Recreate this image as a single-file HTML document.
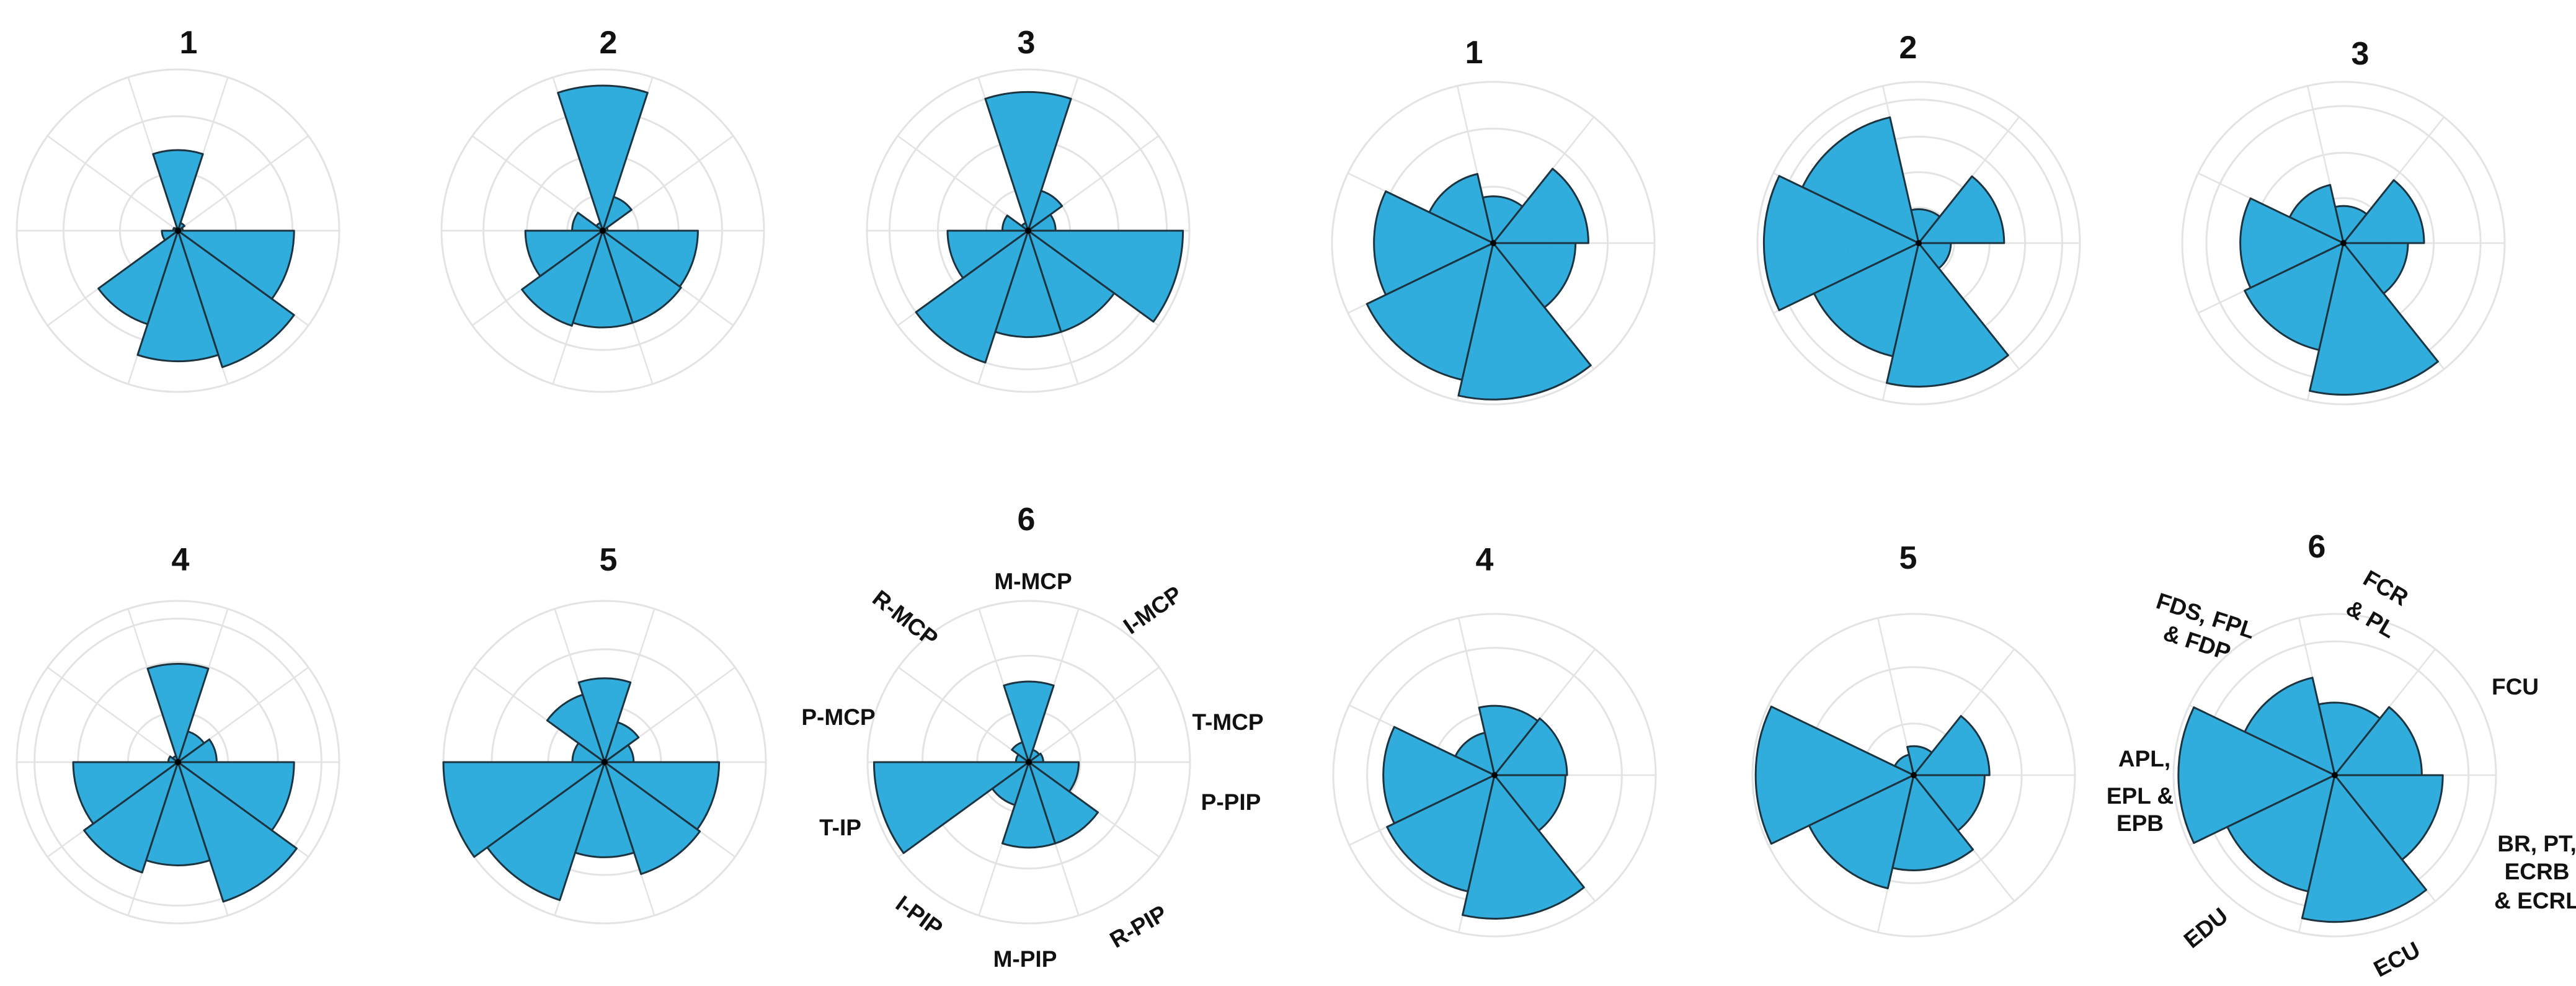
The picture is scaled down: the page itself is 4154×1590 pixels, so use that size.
<!DOCTYPE html>
<html><head><meta charset="utf-8">
<style>
html,body{margin:0;padding:0;background:#fff;}
svg{display:block;}
text{font-family:"Liberation Sans",sans-serif;font-weight:bold;fill:#111;}
.t{font-size:52px;}
.l{font-size:37px;}
</style></head>
<body>
<svg id="s" width="4154" height="1590" viewBox="0 0 4154 1590" xmlns="http://www.w3.org/2000/svg">
<g id="plots"></g>
<g text-anchor="middle">
<text class="t" x="304" y="86">1</text>
<text class="t" x="981" y="86">2</text>
<text class="t" x="1655" y="86">3</text>
<text class="t" x="2377" y="102">1</text>
<text class="t" x="3077" y="94">2</text>
<text class="t" x="3806" y="104">3</text>
<text class="t" x="291" y="920">4</text>
<text class="t" x="981" y="920">5</text>
<text class="t" x="1655" y="855">6</text>
<text class="t" x="2394" y="920">4</text>
<text class="t" x="3077" y="917">5</text>
<text class="t" x="3736" y="899">6</text>

<text class="l" x="1666" y="950">M-MCP</text>
<text class="l" transform="translate(1452,1007) rotate(38)" x="0" y="0">R-MCP</text>
<text class="l" transform="translate(1866,994) rotate(-35)" x="0" y="0">I-MCP</text>
<text class="l" x="1980" y="1177">T-MCP</text>
<text class="l" x="1352" y="1169">P-MCP</text>
<text class="l" x="1985" y="1306">P-PIP</text>
<text class="l" x="1355" y="1347">T-IP</text>
<text class="l" transform="translate(1475,1487) rotate(36)" x="0" y="0">I-PIP</text>
<text class="l" x="1653" y="1559">M-PIP</text>
<text class="l" transform="translate(1842,1505) rotate(-30)" x="0" y="0">R-PIP</text>

<text class="l" transform="translate(3553,1005) rotate(18)" x="0" y="0">FDS, FPL</text>
<text class="l" transform="translate(3539,1048) rotate(18)" x="0" y="0">&amp; FDP</text>
<text class="l" transform="translate(3841,959) rotate(30)" x="0" y="0">FCR</text>
<text class="l" transform="translate(3817,1009) rotate(30)" x="0" y="0">&amp; PL</text>
<text class="l" x="4056" y="1120">FCU</text>
<text class="l" x="3458" y="1236">APL,</text>
<text class="l" x="3451" y="1296">EPL &amp;</text>
<text class="l" x="3451" y="1340">EPB</text>
<text class="l" x="4091" y="1373">BR, PT,</text>
<text class="l" x="4091" y="1418">ECRB</text>
<text class="l" x="4091" y="1465">&amp; ECRL</text>
<text class="l" transform="translate(3565,1506) rotate(-39)" x="0" y="0">EDU</text>
<text class="l" transform="translate(3871,1558) rotate(-28)" x="0" y="0">ECU</text>
</g>
</svg>
<script>
(function(){
var NS="http://www.w3.org/2000/svg";
var g=document.getElementById("plots");
var R=260;
var L=[
 {cx:287,cy:372,rings:[.36,.71,1],d:[.50,.05,.03,.72,.89,.81,.61,.10,.03,.02]},
 {cx:972,cy:372,rings:[.22,.47,.74,1],d:[.90,.22,.03,.59,.60,.60,.62,.48,.19,.05]},
 {cx:1658,cy:372,rings:[.26,.56,.86,1],d:[.86,.26,.17,.96,.66,.66,.86,.50,.16,.05]},
 {cx:287,cy:1229,rings:[.31,.62,.89,1],d:[.61,.20,.24,.72,.91,.64,.72,.65,.06,.04]},
 {cx:975,cy:1229,rings:[.35,.7,1],d:[.52,.26,.18,.71,.73,.59,.90,1.0,.20,.44]},
 {cx:1659,cy:1229,rings:[.32,.66,1],d:[.50,.08,.09,.31,.53,.53,.28,.96,.08,.13]}
];
var Rt=[
 {cx:2408,cy:392,rings:[.35,.71,1],d:[.59,.29,.44,.74,.87,.97,.51]},
 {cx:3094,cy:392,rings:[.22,.44,.66,.89,1],d:[.53,.21,.80,.96,.72,.89,.20]},
 {cx:3779,cy:392,rings:[.28,.56,.85,1],d:[.50,.23,.37,.64,.68,.94,.40]},
 {cx:2410,cy:1250,rings:[.39,.79,1],d:[.45,.43,.27,.69,.74,.89,.44]},
 {cx:3086,cy:1250,rings:[.32,.67,1],d:[.47,.18,.13,.98,.72,.59,.44]},
 {cx:3765,cy:1250,rings:[.41,.83,1],d:[.54,.45,.62,.97,.74,.91,.67]}
];
function el(n,a){var e=document.createElementNS(NS,n);for(var k in a)e.setAttribute(k,a[k]);g.appendChild(e);return e;}
function pt(cx,cy,r,deg){var a=deg*Math.PI/180;return [cx+r*Math.cos(a),cy-r*Math.sin(a)];}
function plot(p,n,centers){
 var w=360/n;
 p.rings.forEach(function(f){el("circle",{cx:p.cx,cy:p.cy,r:f*R,fill:"none",stroke:"#e3e3e3","stroke-width":3});});
 for(var i=0;i<n;i++){var q=pt(p.cx,p.cy,R,i*w);el("line",{x1:p.cx,y1:p.cy,x2:q[0],y2:q[1],stroke:"#e3e3e3","stroke-width":2.5});}
 centers.forEach(function(c,i){
  var r=p.d[i]*R;if(r<2)return;
  var a1=c-w/2,a2=c+w/2;
  var s=pt(p.cx,p.cy,r,a1),e=pt(p.cx,p.cy,r,a2);
  var d="M"+p.cx+","+p.cy+" L"+s[0].toFixed(1)+","+s[1].toFixed(1)+" A"+r.toFixed(1)+","+r.toFixed(1)+" 0 0 0 "+e[0].toFixed(1)+","+e[1].toFixed(1)+" Z";
  el("path",{d:d,fill:"#28aadb","fill-opacity":"0.96",stroke:"#1c3340","stroke-width":3,"stroke-linejoin":"round"});
 });
 el("circle",{cx:p.cx,cy:p.cy,r:5,fill:"#000"});
}
var lc=[90,54,18,-18,-54,-90,-126,-162,162,126];
var rc=[25.714,77.143,128.571,180,-128.571,-77.143,-25.714];
L.forEach(function(p){plot(p,10,lc);});
Rt.forEach(function(p){plot(p,7,rc);});
})();
</script>
</body></html>
